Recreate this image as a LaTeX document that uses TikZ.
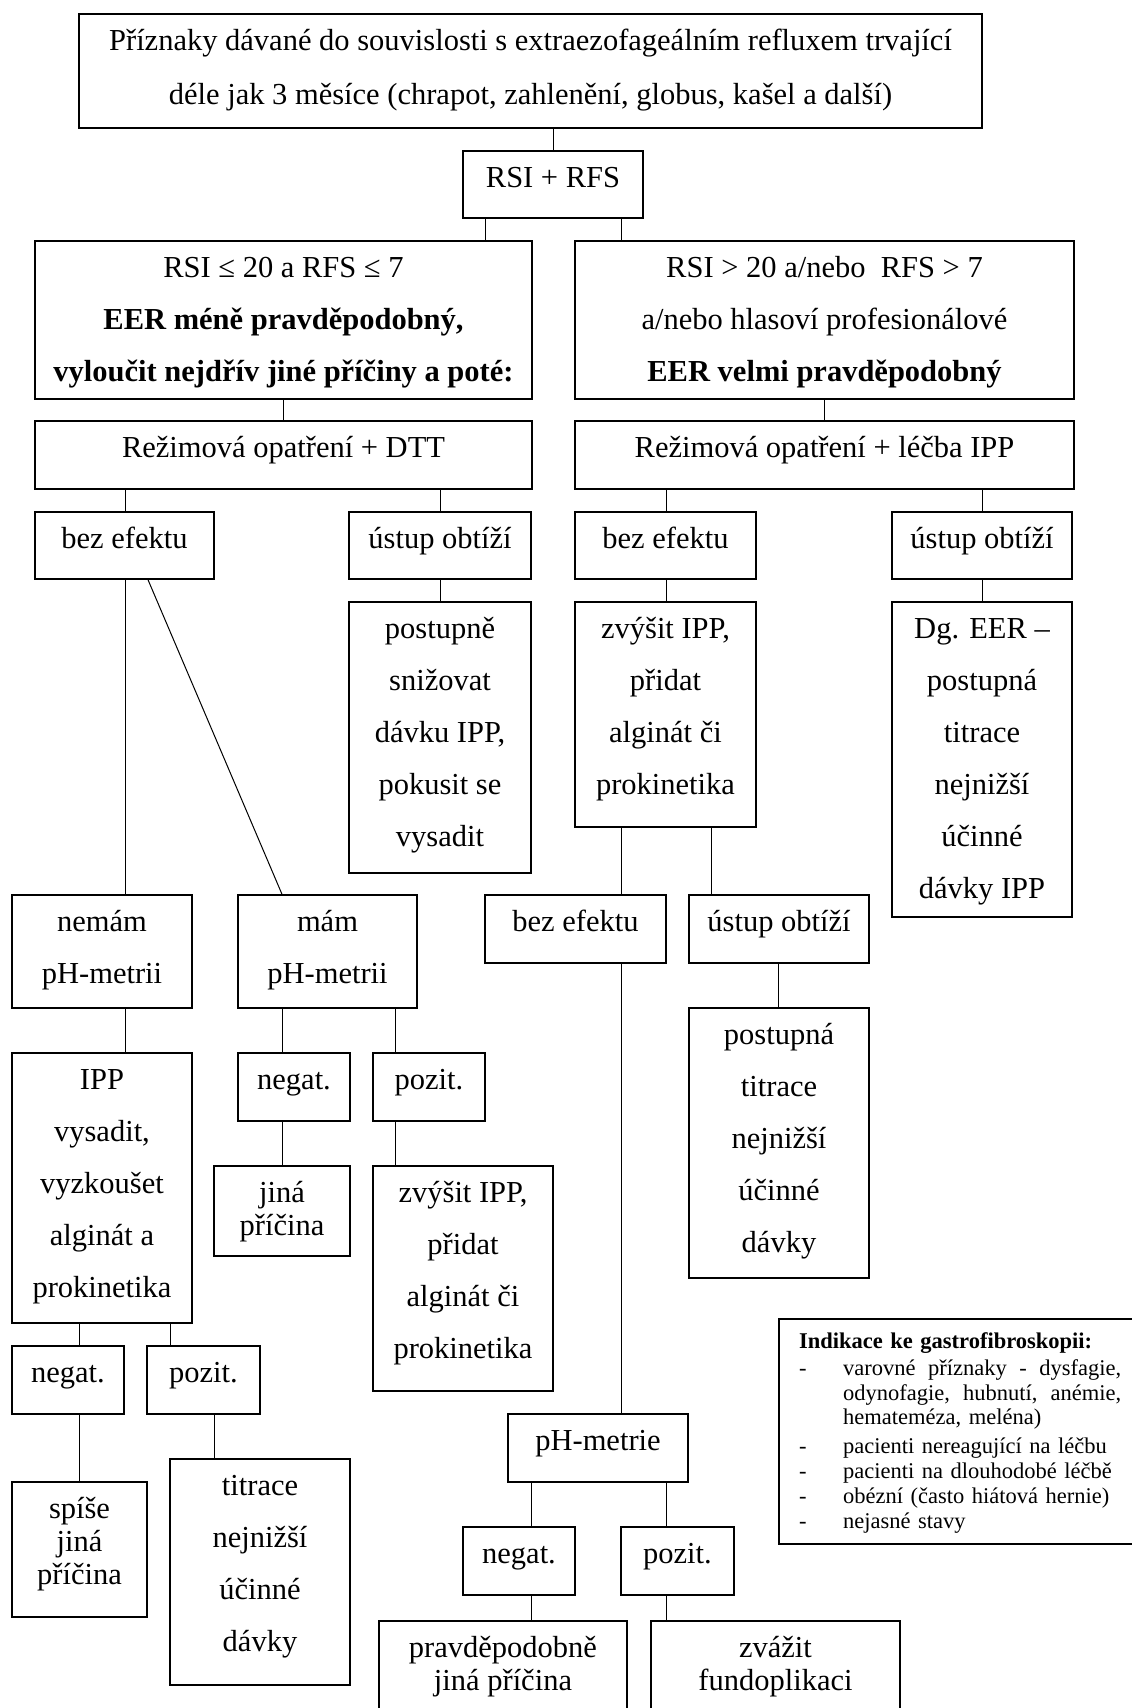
\documentclass[tikz,border=0pt]{standalone}
\usepackage{fontspec}
\setmainfont{Liberation Serif}
\newcommand\bigfont{\fontsize{30.5}{52}\selectfont}
\newcommand\tightfont{\fontsize{30.5}{33}\selectfont}
\newcommand\smallfont{\fontsize{22.5}{24.8}\selectfont}
\newcommand\bx[7][]{%
  \node[box,minimum width={#5-#3},minimum height={#6-#4}] (#2) at ({(#3+#5)/2},{(#4+#6)/2}) {};
  \node[txt,#1,anchor=north] (#2-t) at ({(#3+#5)/2},{#4+6}) {\rule{0pt}{30pt}#7};}
\begin{document}
\begin{tikzpicture}[x=1pt,y=-1pt,
  box/.style={draw,line width=1.5pt,inner sep=0pt},
  txt/.style={inner sep=0pt,align=center,font=\bigfont},
  tight/.style={font=\tightfont},
  conn/.style={line width=1pt}]
\useasboundingbox (0,0) rectangle (1132,1708);
\clip (0,0) rectangle (1132,1708);
% boxes
\bx[font=\fontsize{30.5}{54}\selectfont]{top}{79}{14}{982}{128}{Příznaky dávané do souvislosti s extraezofageálním refluxem trvající\\déle jak 3 měsíce (chrapot, zahlenění, globus, kašel a další)}
\bx{rsi}{463}{151}{643}{218}{RSI + RFS}
\bx{Lone}{35}{241}{532}{399}{RSI ≤ 20 a RFS ≤ 7\\\textbf{EER méně pravděpodobný,}\\\textbf{vyloučit nejdřív jiné příčiny a poté:}}
\bx{Rone}{575}{241}{1074}{399}{RSI > 20 a/nebo\ \ RFS > 7\\a/nebo hlasoví profesionálové\\\textbf{EER velmi pravděpodobný}}
\bx{Ltwo}{35}{421}{532}{489}{Režimová opatření + DTT}
\bx{Rtwo}{575}{421}{1074}{489}{Režimová opatření + léčba IPP}
\bx{Ltha}{35}{512}{214}{579}{bez efektu}
\bx{Lthb}{349}{512}{531}{579}{ústup obtíží}
\bx{Rtha}{575}{512}{756}{579}{bez efektu}
\bx{Rthb}{892}{512}{1072}{579}{ústup obtíží}
\bx{Lfob}{349}{602}{531}{873}{postupně\\snižovat\\dávku IPP,\\pokusit se\\vysadit}
\bx{Rfoa}{575}{602}{756}{827}{zvýšit IPP,\\přidat\\alginát či\\prokinetika}
\bx{Rfob}{892}{602}{1072}{917}{Dg. EER –\\postupná\\titrace\\nejnižší\\účinné\\dávky IPP}
\bx{nemam}{12}{895}{192}{1008}{nemám\\pH-metrii}
\bx{mam}{238}{895}{417}{1008}{mám\\pH-metrii}
\bx{Rfia}{485}{895}{666}{963}{bez efektu}
\bx{Rfib}{689}{895}{869}{963}{ústup obtíží}
\bx{ipp}{12}{1053}{192}{1323}{IPP\\vysadit,\\vyzkoušet\\alginát a\\prokinetika}
\bx{mneg}{238}{1053}{350}{1121}{negat.}
\bx{mpoz}{373}{1053}{485}{1121}{pozit.}
\bx[tight]{jina}{214}{1166}{350}{1256}{jiná\\příčina}
\bx{zvys}{373}{1166}{553}{1391}{zvýšit IPP,\\přidat\\alginát či\\prokinetika}
\bx{titrR}{689}{1008}{869}{1278}{postupná\\titrace\\nejnižší\\účinné\\dávky}
\bx{ineg}{12}{1346}{124}{1414}{negat.}
\bx{ipoz}{147}{1346}{260}{1414}{pozit.}
\bx[tight]{spise}{12}{1482}{147}{1617}{spíše\\jiná\\příčina}
\bx{titrL}{170}{1459}{350}{1685}{titrace\\nejnižší\\účinné\\dávky}
\bx{phm}{508}{1414}{688}{1482}{pH-metrie}
\bx{pneg}{463}{1527}{575}{1595}{negat.}
\bx{ppoz}{621}{1527}{734}{1595}{pozit.}
\bx[tight]{prav}{379}{1621}{627}{1716}{pravděpodobně\\jiná příčina}
\bx[tight]{zvaz}{651}{1621}{900}{1716}{zvážit\\fundoplikaci}
% info box
\node[box,minimum width=362,minimum height=225,anchor=north west] (indik) at (778,1318) {};
\node[anchor=north west,inner sep=0pt,align=left,font=\smallfont,text width=330] (indiktext) at (799,1330.7) {%
\rule{0pt}{18pt}\textbf{Indikace ke gastrofibroskopii:}\\[1.5pt]
\makebox[44pt][l]{-}\hbox to 278pt{varovné\hfill příznaky\hfill -\hfill dysfagie,}\\
\hspace*{44pt}\hbox to 278pt{odynofagie,\hfill hubnutí,\hfill anémie,}\\
\hspace*{44pt}hemateméza, meléna)\\[4pt]
\makebox[44pt][l]{-}pacienti nereagující na léčbu\\
\makebox[44pt][l]{-}pacienti na dlouhodobé léčbě\\
\makebox[44pt][l]{-}obézní (často hiátová hernie)\\
\makebox[44pt][l]{-}nejasné stavy};
% connectors
\draw[conn] (rsi.north) -- (rsi.north |- top.south);
\draw[conn] (485,0 |- rsi.south) -- (485,0 |- Lone.north);
\draw[conn] (621,0 |- rsi.south) -- (621,0 |- Rone.north);
\draw[conn] (283,0 |- Lone.south) -- (283,0 |- Ltwo.north);
\draw[conn] (824,0 |- Rone.south) -- (824,0 |- Rtwo.north);
\draw[conn] (125,0 |- Ltwo.south) -- (125,0 |- Ltha.north);
\draw[conn] (440,0 |- Ltwo.south) -- (440,0 |- Lthb.north);
\draw[conn] (666,0 |- Rtwo.south) -- (666,0 |- Rtha.north);
\draw[conn] (982,0 |- Rtwo.south) -- (982,0 |- Rthb.north);
\draw[conn] (440,0 |- Lthb.south) -- (440,0 |- Lfob.north);
\draw[conn] (666,0 |- Rtha.south) -- (666,0 |- Rfoa.north);
\draw[conn] (982,0 |- Rthb.south) -- (982,0 |- Rfob.north);
\draw[conn] (125,0 |- Ltha.south) -- (125,0 |- nemam.north);
\draw[conn] (148,0 |- Ltha.south) -- (282,0 |- mam.north);
\draw[conn] (621,0 |- Rfoa.south) -- (621,0 |- Rfia.north);
\draw[conn] (711,0 |- Rfoa.south) -- (711,0 |- Rfib.north);
\draw[conn] (125,0 |- nemam.south) -- (125,0 |- ipp.north);
\draw[conn] (282,0 |- mam.south) -- (282,0 |- mneg.north);
\draw[conn] (395,0 |- mam.south) -- (395,0 |- mpoz.north);
\draw[conn] (282,0 |- mneg.south) -- (282,0 |- jina.north);
\draw[conn] (395,0 |- mpoz.south) -- (395,0 |- zvys.north);
\draw[conn] (621,0 |- Rfia.south) -- (621,0 |- phm.north);
\draw[conn] (778,0 |- Rfib.south) -- (778,0 |- titrR.north);
\draw[conn] (79,0 |- ipp.south) -- (79,0 |- ineg.north);
\draw[conn] (170,0 |- ipp.south) -- (170,0 |- ipoz.north);
\draw[conn] (79,0 |- ineg.south) -- (79,0 |- spise.north);
\draw[conn] (214,0 |- ipoz.south) -- (214,0 |- titrL.north);
\draw[conn] (531,0 |- phm.south) -- (531,0 |- pneg.north);
\draw[conn] (666,0 |- phm.south) -- (666,0 |- ppoz.north);
\draw[conn] (531,0 |- pneg.south) -- (531,0 |- prav.north);
\draw[conn] (666,0 |- ppoz.south) -- (666,0 |- zvaz.north);
\end{tikzpicture}
\end{document}
